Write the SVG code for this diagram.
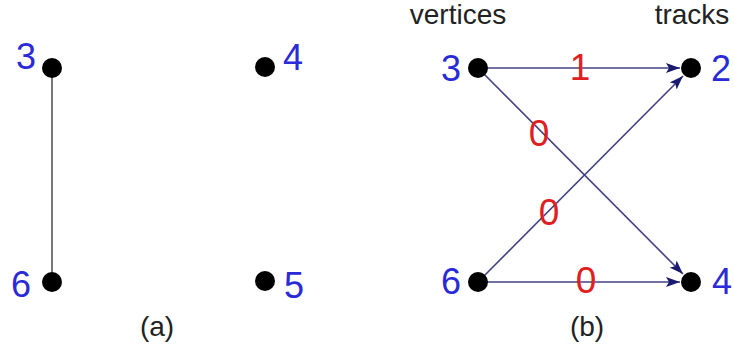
<svg xmlns="http://www.w3.org/2000/svg" width="734" height="362" viewBox="0 0 734 362">
<style>
.node{fill:#000}
.vl{font-family:"Liberation Sans",Arial,sans-serif;font-size:36px;fill:#2a2ad8}
.el{font-family:"Liberation Sans",Arial,sans-serif;font-size:37px;fill:#e02020;text-anchor:middle}
.cap{font-family:"Liberation Sans",Arial,sans-serif;font-size:28px;fill:#222;text-anchor:middle}
.e{stroke:#404082;stroke-width:1.6;fill:none}
.ea{marker-end:url(#ah)}
</style>
<defs>
<marker id="ah" viewBox="0 0 14 10" refX="14" refY="5" markerWidth="14" markerHeight="10" markerUnits="userSpaceOnUse" orient="auto">
<path d="M0,0 L14,5 L0,10 L3,5 Z" fill="#1a1a70"/>
</marker>
</defs>
<rect width="734" height="362" fill="#fff"/>
<g id="connectors">
<line class="e" x1="52" y1="68" x2="52" y2="282" style="stroke:#555"/>
<line class="e ea" x1="478" y1="68" x2="680" y2="68"/>
<line class="e ea" x1="478" y1="68" x2="683" y2="274"/>
<line class="e ea" x1="478" y1="282" x2="683" y2="76"/>
<line class="e ea" x1="478" y1="282" x2="680" y2="282"/>
</g>
<g id="edge-labels">
<text class="el" x="580" y="80">1</text>
<text class="el" x="539" y="146">0</text>
<text class="el" x="549" y="225">0</text>
<text class="el" x="586" y="293">0</text>
</g>
<g id="a3"><circle class="node" cx="52" cy="68" r="10"/><text class="vl" x="16" y="69">3</text></g>
<g id="a6"><circle class="node" cx="52" cy="282" r="10"/><text class="vl" x="11" y="297">6</text></g>
<g id="a4"><circle class="node" cx="265" cy="67" r="10"/><text class="vl" x="283" y="70">4</text></g>
<g id="a5"><circle class="node" cx="265" cy="281" r="10"/><text class="vl" x="284" y="298">5</text></g>
<g id="b3"><circle class="node" cx="478" cy="68" r="10"/><text class="vl" x="441" y="81">3</text></g>
<g id="b6"><circle class="node" cx="478" cy="282" r="10"/><text class="vl" x="441" y="294">6</text></g>
<g id="b2"><circle class="node" cx="691" cy="68" r="10"/><text class="vl" x="711" y="81">2</text></g>
<g id="b4"><circle class="node" cx="691" cy="282" r="10"/><text class="vl" x="712" y="294">4</text></g>
<g id="captions">
<text class="cap" x="458" y="24">vertices</text>
<text class="cap" x="692" y="24">tracks</text>
<text class="cap" x="157" y="336">(a)</text>
<text class="cap" x="587" y="336">(b)</text>
</g>
</svg>
